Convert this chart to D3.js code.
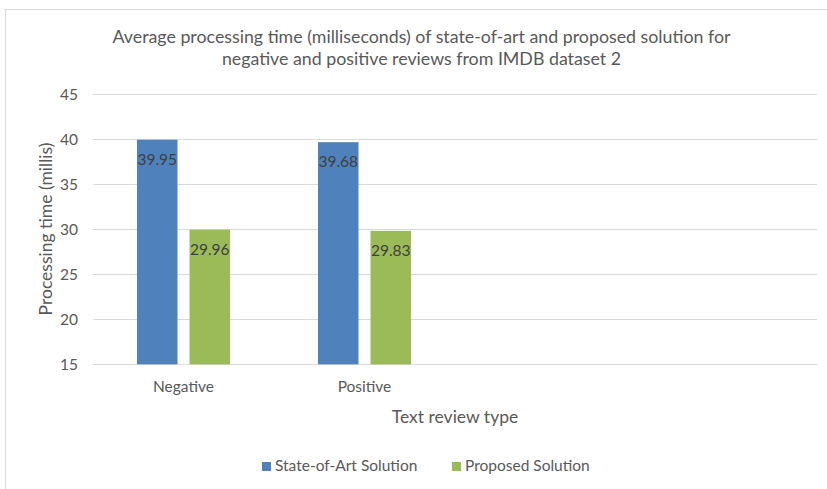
<!DOCTYPE html>
<html><head><meta charset="utf-8">
<script src="https://cdn.jsdelivr.net/npm/d3@7"></script>
<style>body{margin:0;background:#fff}svg{display:block}text{font-family:Lato,"Open Sans",sans-serif}</style>
</head><body>
<svg id="c" width="827" height="489"></svg>
<script>
const categories = ["Negative", "Positive", "", " "];
const seriesNames = ["State-of-Art Solution", "Proposed Solution"];
const stateOfArt = [39.95, 39.68, null, null];
const proposed = [29.96, 29.83, null, null];
const yTicks = [15, 20, 25, 30, 35, 40, 45];
const colors = ["#4F81BD", "#9BBB59"];

const svg = d3.select("#c");
svg.append("rect").attr("x",5.5).attr("y",9.5).attr("width",840).attr("height",500)
  .attr("fill","#fff").attr("stroke","#d9d9d9");

const pLeft = 93, pRight = 817, pTop = 94.3, pBottom = 364.3;
const x = d3.scaleBand().domain(categories).range([pLeft, pRight]);
const y = d3.scaleLinear().domain([15, 45]).range([pBottom, pTop]);
const bw = 40.5, gap = 12;

// gridlines
svg.append("g").selectAll("line").data(yTicks).join("line")
  .attr("x1", pLeft).attr("x2", pRight)
  .attr("y1", d => Math.round(y(d)) + 0.5).attr("y2", d => Math.round(y(d)) + 0.5)
  .attr("stroke", "#d9d9d9").attr("stroke-width", 1);

// y labels
svg.append("g").selectAll("text").data(yTicks).join("text")
  .attr("x", 78).attr("y", d => y(d) + 5.5)
  .attr("text-anchor", "end").attr("font-size", 15.5).attr("fill", "#595959").text(d => d);

const series = [stateOfArt, proposed];
series.forEach((vals, si) => {
  const data = categories.map((c, i) => ({c, v: vals[i]})).filter(d => d.v != null);
  const off = si === 0 ? -(gap/2 + bw) : gap/2;
  const g = svg.append("g");
  g.selectAll("rect").data(data).join("rect")
    .attr("x", d => x(d.c) + x.bandwidth()/2 + off)
    .attr("y", d => y(d.v)).attr("width", bw).attr("height", d => pBottom - y(d.v))
    .attr("fill", colors[si]);
  g.selectAll("text").data(data).join("text")
    .attr("x", d => x(d.c) + x.bandwidth()/2 + off + bw/2)
    .attr("y", d => y(d.v) + 25)
    .attr("text-anchor", "middle").attr("font-size", 15.5).attr("fill", "#404040")
    .text(d => d.v.toFixed(2));
});

// x labels
svg.append("g").selectAll("text").data(categories.filter(c => c.trim())).join("text")
  .attr("x", d => x(d) + x.bandwidth()/2).attr("y", 391.5)
  .attr("text-anchor", "middle").attr("font-size", 15.5).attr("fill", "#595959").text(d => d);

// axis titles
svg.append("text").attr("x", (pLeft+pRight)/2).attr("y", 422.5).attr("text-anchor","middle")
  .attr("font-size", 17.5).attr("fill", "#595959").text("Text review type");
svg.append("text").attr("transform", "translate(52,229) rotate(-90)").attr("text-anchor","middle")
  .attr("font-size", 17.5).attr("fill", "#595959").text("Processing time (millis)");

// title
svg.append("text").attr("x", 421.5).attr("y", 43).attr("text-anchor","middle")
  .attr("font-size", 17.8).attr("fill", "#595959")
  .text("Average processing time (milliseconds) of state-of-art and proposed solution for");
svg.append("text").attr("x", 421.5).attr("y", 65).attr("text-anchor","middle")
  .attr("font-size", 17.8).attr("fill", "#595959")
  .text("negative and positive reviews from IMDB dataset 2");

// legend
const lx = [262, 452];
seriesNames.forEach((n, i) => {
  svg.append("rect").attr("x", lx[i]).attr("y", 462).attr("width", 9).attr("height", 9).attr("fill", colors[i]);
  svg.append("text").attr("x", lx[i] + 13).attr("y", 471).attr("font-size", 15.5).attr("fill", "#595959").text(n);
});
</script>
</body></html>
